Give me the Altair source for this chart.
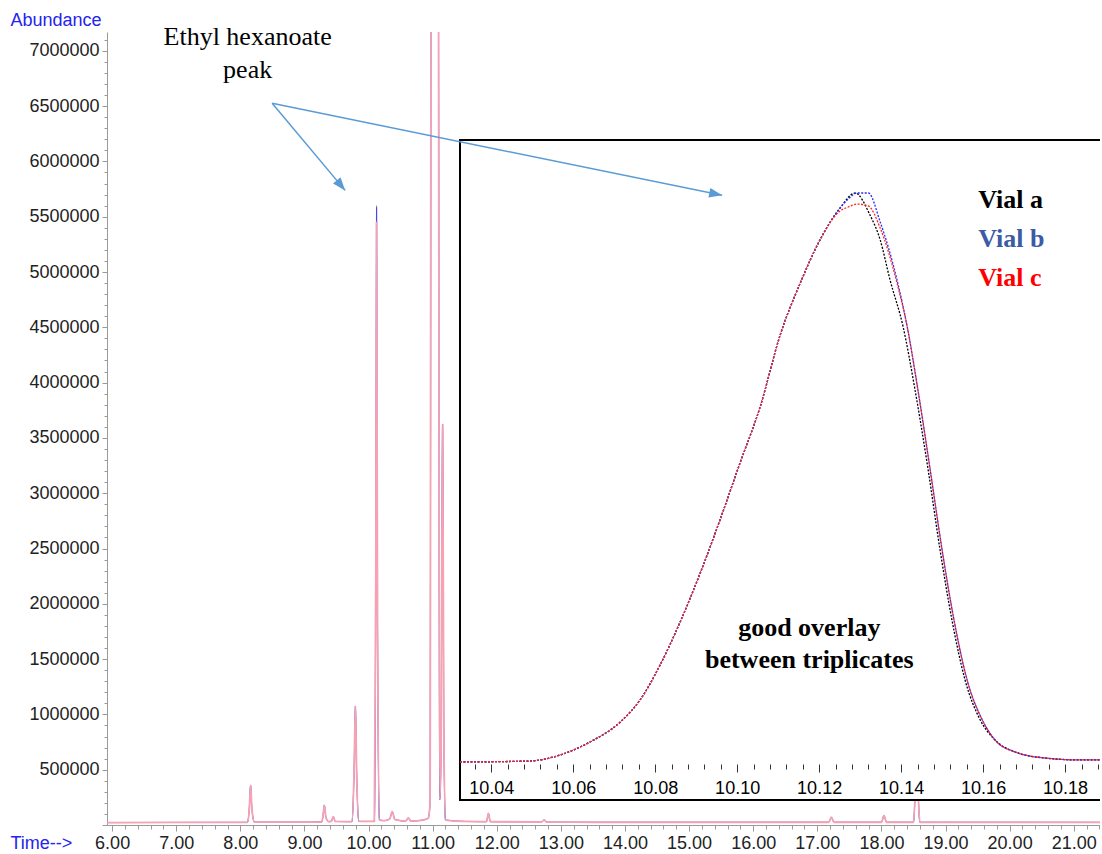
import altair as alt
import pandas as pd

# ---------------- main chromatogram (retention time in min, abundance) ----------------
main_time = [5.92, 7.00, 8.11, 8.14, 8.16, 8.18, 8.22, 9.00, 9.27, 9.295, 9.31, 9.335,
             9.38, 9.42, 9.45, 9.48, 9.74, 9.775, 9.795, 9.815, 9.85, 10.09, 10.113,
             10.140, 10.17, 10.25, 10.33, 10.37, 10.41, 10.58, 10.62, 10.66, 10.85,
             10.93, 10.96, 10.978, 11.085, 11.11, 11.13, 11.155, 11.175, 11.20, 11.50,
             11.84, 11.87, 11.90, 12.70, 12.74, 12.78, 13.50, 17.18, 17.22, 17.26,
             18.00, 18.04, 18.08, 18.50, 18.55, 18.60, 21.41]
main_abund = [22000, 23000, 24000, 150000, 360000, 150000, 26000, 26000, 28000, 110000,
              180000, 70000, 30000, 35000, 75000, 32000, 30000, 500000, 1075000, 450000,
              32000, 32000, 2200000, 1800000, 45000, 40000, 55000, 120000, 50000, 35000,
              65000, 35000, 45000, 60000, 200000, 9000000, 9000000, 230000, 600000,
              3620000, 800000, 45000, 32000, 30000, 105000, 30000, 28000, 45000, 26000,
              25000, 25000, 70000, 25000, 25000, 85000, 25000, 25000, 500000, 25000, 24000]
# apex of the ethyl hexanoate peak for each vial
apex_time = [10.125]
apex_vial_a = [5600000]
apex_vial_b = [5585000]
apex_vial_c = [5450000]

# ---------------- inset (zoom on ethyl hexanoate peak) ----------------
inset_left_time = [10.0324, 10.0495, 10.0568, 10.0641, 10.0715, 10.0763, 10.0812, 10.0861,
                   10.0910, 10.0959, 10.1007, 10.1056, 10.1105, 10.1154, 10.1202]
inset_left_abund = [25000, 34800, 93600, 221000, 417000, 632000, 975000, 1397000,
                    1877000, 2406000, 2955000, 3503000, 4209000, 4718000, 5140000]

vial_a_time = [10.1251, 10.1288, 10.1324, 10.1349, 10.1373, 10.1405, 10.1434, 10.1466,
               10.1495, 10.1524, 10.1556, 10.1593, 10.1629, 10.1678, 10.1751, 10.1837, 10.1890]
vial_a_abund = [5453000, 5600000, 5385000, 5140000, 4748000, 4287000, 3670000, 2886000,
                2102000, 1416000, 828000, 437000, 241000, 123000, 64000, 45000, 45000]

vial_b_time = [10.1251, 10.1271, 10.1293, 10.1320, 10.1349, 10.1390, 10.1415, 10.1441,
               10.1471, 10.1500, 10.1529, 10.1561, 10.1598, 10.1629, 10.1678, 10.1751,
               10.1837, 10.1890]
vial_b_abund = [5453000, 5541000, 5600000, 5600000, 5316000, 4748000, 4287000, 3670000,
                2886000, 2102000, 1416000, 828000, 437000, 241000, 123000, 64000, 45000, 45000]

vial_c_time = vial_b_time
vial_c_abund = [5424000, 5463000, 5492000, 5473000, 5257000, 4718000, 4287000, 3670000,
                2886000, 2102000, 1416000, 828000, 437000, 241000, 123000, 64000, 45000, 45000]

vial_labels = ["Vial a", "Vial b", "Vial c"]
vial_label_time = [10.1588, 10.1588, 10.1588]
vial_label_abund = [5531000, 5149000, 4767000]

note_lines = ["good overlay", "between triplicates"]
note_time = [10.1176, 10.1176]
note_abund = [1338000, 1024000]

title_lines = ["Ethyl hexanoate", "peak"]
title_time = [8.114, 8.114]
title_abund = [7121000, 6823000]

arrow_start = (8.496, 6525000)
arrow1_end = (9.635, 5738000)
arrow2_end = (15.516, 5693000)

# ---------------- frames ----------------
def vial_frame(apex):
    df = pd.DataFrame({"time": main_time + apex_time, "abund": main_abund + apex})
    return df.sort_values("time").reset_index(drop=True)

main_a = vial_frame(apex_vial_a)
main_b = vial_frame(apex_vial_b)
main_c = vial_frame(apex_vial_c)

def inset_frame(t, a):
    return pd.DataFrame({"time": inset_left_time + t, "abund": inset_left_abund + a})

ins_a = inset_frame(vial_a_time, vial_a_abund)
ins_b = inset_frame(vial_b_time, vial_b_abund)
ins_c = inset_frame(vial_c_time, vial_c_abund)

MAIN_X = [5.92, 21.41]
MAIN_Y = [0, 7170000]
INSET_X = [10.0324, 10.1890]
INSET_Y = [-347300, 6119400]

box_df = pd.DataFrame({"time": [INSET_X[0]], "time2": [10.20],
                       "abund": [INSET_Y[0]], "abund2": [INSET_Y[1]]})

FONT = "Liberation Sans"
SERIF = "Liberation Serif"
AXIS_BLUE = "#2424f0"

# ---------------- axes ----------------
y_ticks = list(range(0, 7100001, 100000))
x_ticks = [round(6.0 + 0.2 * i, 1) for i in range(78)]
inset_ticks = [round(10.036 + 0.004 * i, 3) for i in range(39)]

y_axis = alt.Axis(
    values=y_ticks,
    labelExpr="datum.value % 500000 == 0 && datum.value > 0 ? format(datum.value, 'd') : ''",
    tickSize={"condition": {"test": "datum.value % 500000 == 0", "value": 5}, "value": 3},
    labelFontSize=18, labelColor="#222222", labelPadding=3, labelOverlap=False,
    domainColor="#9a9a9a", tickColor="#9a9a9a", grid=False,
    title="Abundance", titleAngle=0, titleX=-97, titleY=-12, titleAlign="left",
    titleBaseline="middle", titleColor=AXIS_BLUE, titleFontSize=18,
    titleFontWeight="normal", titleFont=FONT,
)
x_axis = alt.Axis(
    values=x_ticks,
    labelExpr="abs(datum.value - round(datum.value)) < 0.001 ? format(datum.value, '.2f') : ''",
    tickSize={"condition": {"test": "abs(datum.value - round(datum.value)) < 0.001", "value": 6},
              "value": 4},
    labelFontSize=18, labelColor="#222222", labelPadding=3, labelOverlap=False,
    labelFlush=False, domainColor="#9a9a9a", tickColor="#9a9a9a", grid=False,
    title="Time-->", titleX=-97, titleY=18, titleAlign="left", titleBaseline="middle",
    titleColor=AXIS_BLUE, titleFontSize=18, titleFontWeight="normal", titleFont=FONT,
)
inset_axis = alt.Axis(
    orient="bottom", offset=-61, values=inset_ticks, zindex=1,
    labelExpr="abs(datum.value * 50 - round(datum.value * 50)) < 0.01 ? format(datum.value, '.2f') : ''",
    tickSize={"condition": {"test": "abs(datum.value * 50 - round(datum.value * 50)) < 0.01",
                            "value": 8}, "value": 5},
    domain=False, labelFontSize=18, labelColor="#000000", labelPadding=7,
    labelOverlap=False, labelFlush=False, tickColor="#333333", grid=False, title=None,
)

main_x = alt.X("time:Q", scale=alt.Scale(domain=MAIN_X, nice=False, zero=False), axis=x_axis)
main_y = alt.Y("abund:Q", scale=alt.Scale(domain=MAIN_Y, nice=False, zero=False), axis=y_axis)
ann_x = alt.X("time:Q", scale=alt.Scale(domain=MAIN_X, nice=False, zero=False), axis=None)
ann_y = alt.Y("abund:Q", scale=alt.Scale(domain=MAIN_Y, nice=False, zero=False), axis=None)
ins_x = alt.X("time:Q", scale=alt.Scale(domain=INSET_X, range=[353, 995], nice=False, zero=False),
              axis=inset_axis)
ins_y = alt.Y("abund:Q", scale=alt.Scale(domain=INSET_Y, range=[768, 108], nice=False, zero=False),
              axis=None)

# ---------------- main traces ----------------
trace_a = alt.Chart(main_a).mark_line(clip=True, interpolate="monotone", color="#8a8a8a",
                                      strokeWidth=0.8).encode(x=main_x, y=main_y)
trace_b = alt.Chart(main_b).mark_line(clip=True, interpolate="monotone", color="#4040ff",
                                      strokeWidth=0.8).encode(x=main_x, y=main_y)
trace_c = alt.Chart(main_c).mark_line(clip=True, interpolate="monotone", color="#f4a2b4",
                                      strokeWidth=1.8).encode(x=main_x, y=main_y)
main_layer = alt.layer(trace_a, trace_b, trace_c)

# ---------------- inset ----------------
box = alt.Chart(box_df).mark_rect(fill="white", stroke="black", strokeWidth=2).encode(
    x=ins_x, x2=alt.X2("time2"), y=ins_y, y2=alt.Y2("abund2"))
dash = [2, 1.5]
in_a = alt.Chart(ins_a).mark_line(interpolate="monotone", color="#000000", strokeWidth=1.3,
                                  strokeDash=dash).encode(x=ins_x, y=ins_y)
in_b = alt.Chart(ins_b).mark_line(interpolate="monotone", color="#2a2aff", strokeWidth=1.3,
                                  strokeDash=dash).encode(x=ins_x, y=ins_y)
in_c = alt.Chart(ins_c).mark_line(interpolate="monotone", color="#ff2020", strokeWidth=1.3,
                                  strokeDash=dash).encode(x=ins_x, y=ins_y)
legend_df = pd.DataFrame({"time": vial_label_time, "abund": vial_label_abund, "label": vial_labels})
legend_txt = alt.Chart(legend_df).mark_text(
    align="left", baseline="middle", font=SERIF, fontSize=26, fontWeight="bold").encode(
    x=ins_x, y=ins_y, text="label:N",
    color=alt.Color("label:N", scale=alt.Scale(domain=vial_labels,
                                               range=["#000000", "#3b5ba5", "#ff0000"]),
                    legend=None))
note_df = pd.DataFrame({"time": note_time, "abund": note_abund, "label": note_lines})
note_txt = alt.Chart(note_df).mark_text(
    align="center", baseline="middle", font=SERIF, fontSize=26, fontWeight="bold",
    color="black").encode(x=ins_x, y=ins_y, text="label:N")
inset_layer = alt.layer(box, in_a, in_b, in_c, legend_txt, note_txt)

# ---------------- annotations (main coordinates) ----------------
title_df = pd.DataFrame({"time": title_time, "abund": title_abund, "label": title_lines})
title_txt = alt.Chart(title_df).mark_text(
    align="center", baseline="middle", font=SERIF, fontSize=26, color="black").encode(
    x=ann_x, y=ann_y, text="label:N")
arrows_df = pd.DataFrame({
    "time": [arrow_start[0], arrow1_end[0], arrow_start[0], arrow2_end[0]],
    "abund": [arrow_start[1], arrow1_end[1], arrow_start[1], arrow2_end[1]],
    "arrow": ["a1", "a1", "a2", "a2"],
})
ARROW = "#5b9bd5"
arrow_lines = alt.Chart(arrows_df).mark_line(color=ARROW, strokeWidth=1.5).encode(
    x=ann_x, y=ann_y, detail="arrow:N")
head_shape = "M0,0L-0.75,2L0.75,2Z"
head1 = alt.Chart(pd.DataFrame({"time": [arrow1_end[0]], "abund": [arrow1_end[1]]})).mark_point(
    shape=head_shape, size=170, filled=True, opacity=1, color=ARROW, angle=140).encode(
    x=ann_x, y=ann_y)
head2 = alt.Chart(pd.DataFrame({"time": [arrow2_end[0]], "abund": [arrow2_end[1]]})).mark_point(
    shape=head_shape, size=170, filled=True, opacity=1, color=ARROW, angle=101.5).encode(
    x=ann_x, y=ann_y)
annot_layer = alt.layer(title_txt, arrow_lines, head1, head2)

chart = alt.layer(main_layer, inset_layer, annot_layer).resolve_scale(
    x="independent", y="independent"
).properties(
    width=993, height=793,
    autosize=alt.AutoSizeParams(type="none"),
    padding={"left": 107, "top": 32, "right": 0, "bottom": 27},
    background="white",
).configure_axis(
    labelFont=FONT, titleFont=FONT, grid=False
).configure_view(strokeWidth=0)

chart.save("out.html", embed_options={"renderer": "svg", "actions": False})
